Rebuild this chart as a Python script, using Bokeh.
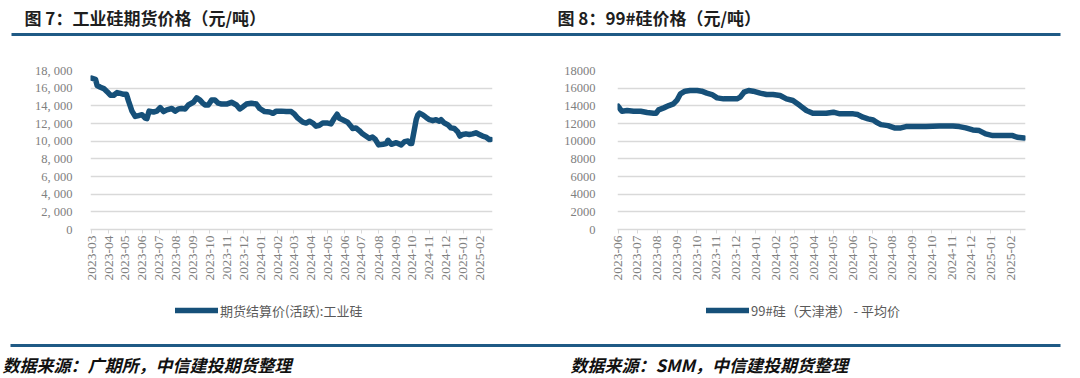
import numpy as np
import pandas as pd
from bokeh.plotting import figure
from bokeh.layouts import column, row
from bokeh.models import (Range1d, FixedTicker, DatetimeTickFormatter,
                          CustomJSTickFormatter, Legend, LegendItem)
from bokeh.core.properties import value
from bokeh.embed import file_html
from bokeh.resources import INLINE

# ---------------- data ----------------
title1 = "图 7：工业硅期货价格（元/吨）"
title2 = "图 8：99#硅价格（元/吨）"
source1 = "数据来源：广期所，中信建投期货整理"
source2 = "数据来源：SMM，中信建投期货整理"
legend1 = "期货结算价(活跃):工业硅"
legend2 = "99#硅（天津港） - 平均价"

ticks1 = ["2023-03", "2023-04", "2023-05", "2023-06", "2023-07", "2023-08",
          "2023-09", "2023-10", "2023-11", "2023-12", "2024-01", "2024-02",
          "2024-03", "2024-04", "2024-05", "2024-06", "2024-07", "2024-08",
          "2024-09", "2024-10", "2024-11", "2024-12", "2025-01", "2025-02"]
ticks2 = ["2023-06", "2023-07", "2023-08", "2023-09", "2023-10", "2023-11",
          "2023-12", "2024-01", "2024-02", "2024-03", "2024-04", "2024-05",
          "2024-06", "2024-07", "2024-08", "2024-09", "2024-10", "2024-11",
          "2024-12", "2025-01", "2025-02"]
yticks = [0, 2000, 4000, 6000, 8000, 10000, 12000, 14000, 16000, 18000]

dates1 = [
    "2023-03-01", "2023-03-08", "2023-03-11", "2023-03-17", "2023-03-23", "2023-03-29",
    "2023-04-04", "2023-04-10", "2023-04-16", "2023-04-22", "2023-04-28",
    "2023-05-03", "2023-05-07", "2023-05-13", "2023-05-19", "2023-05-25", "2023-05-31",
    "2023-06-06", "2023-06-09", "2023-06-13", "2023-06-21", "2023-06-27",
    "2023-07-03", "2023-07-09", "2023-07-15", "2023-07-24", "2023-07-30",
    "2023-08-05", "2023-08-11", "2023-08-17", "2023-08-23",
    "2023-09-01", "2023-09-07", "2023-09-13", "2023-09-18", "2023-09-22", "2023-09-28",
    "2023-10-04", "2023-10-10", "2023-10-16", "2023-10-22", "2023-10-31",
    "2023-11-09", "2023-11-18", "2023-11-24", "2023-11-30",
    "2023-12-06", "2023-12-15", "2023-12-24", "2023-12-30",
    "2024-01-08", "2024-01-17", "2024-01-23", "2024-01-29",
    "2024-02-07", "2024-02-16", "2024-02-25",
    "2024-03-02", "2024-03-08", "2024-03-17", "2024-03-23", "2024-03-29",
    "2024-04-04", "2024-04-10", "2024-04-16", "2024-04-22",
    "2024-05-01", "2024-05-07", "2024-05-13", "2024-05-18", "2024-05-22", "2024-05-28",
    "2024-06-06", "2024-06-12", "2024-06-15", "2024-06-21", "2024-06-27",
    "2024-07-03", "2024-07-09", "2024-07-15", "2024-07-21", "2024-07-26",
    "2024-08-01", "2024-08-09", "2024-08-15", "2024-08-18", "2024-08-24",
    "2024-09-02", "2024-09-11", "2024-09-17", "2024-09-23", "2024-09-27", "2024-09-30",
    "2024-10-08", "2024-10-11", "2024-10-14", "2024-10-20", "2024-10-26",
    "2024-11-01", "2024-11-07", "2024-11-13", "2024-11-19", "2024-11-22", "2024-11-28",
    "2024-12-04", "2024-12-10", "2024-12-16", "2024-12-22", "2024-12-26", "2024-12-31",
    "2025-01-06", "2025-01-12", "2025-01-18", "2025-01-24", "2025-01-30",
    "2025-02-05", "2025-02-11", "2025-02-17", "2025-02-20",
]
prices1 = [
    17130, 17000, 16300, 16100, 15950, 15600,
    15200, 15200, 15500, 15400, 15300,
    15300, 14500, 13400, 12800, 12900, 13000,
    12600, 12550, 13400, 13300, 13400,
    13800, 13350, 13550, 13700, 13400,
    13650, 13700, 13650, 14100,
    14400, 14900, 14650, 14300, 14100, 14100,
    14650, 14650, 14300, 14200, 14200,
    14400, 14100, 13650, 13900,
    14200, 14300, 14200, 13700,
    13350, 13300, 13150, 13400,
    13400, 13350, 13350,
    13050, 12600, 12150, 12050, 12250,
    12050, 11700, 11800, 12050,
    12050, 11950, 12600, 13050, 12600, 12430,
    12150, 11700, 11430, 11500, 11200,
    10830, 10580, 10320, 10470, 10200,
    9580, 9650, 9730, 10100, 9650,
    9830, 9580, 9950, 10020, 9730, 9730,
    12430, 12980, 13170, 12980, 12690,
    12430, 12320, 12430, 12250, 12430, 12050,
    11870, 11500, 11430, 11060, 10580, 10760,
    10830, 10760, 10830, 10950, 10760,
    10580, 10470, 10200, 10200,
]

dates2 = [
    "2023-06-01", "2023-06-04", "2023-06-07", "2023-06-15", "2023-06-25",
    "2023-07-06", "2023-07-16", "2023-07-26", "2023-07-30",
    "2023-08-03", "2023-08-11", "2023-08-19", "2023-08-26",
    "2023-09-01", "2023-09-06", "2023-09-13", "2023-09-21",
    "2023-10-02", "2023-10-09", "2023-10-17", "2023-10-25",
    "2023-11-02", "2023-11-12", "2023-11-22",
    "2023-12-03", "2023-12-08", "2023-12-14", "2023-12-21", "2023-12-28",
    "2024-01-08", "2024-01-18", "2024-01-28",
    "2024-02-08", "2024-02-18", "2024-02-28",
    "2024-03-10", "2024-03-20", "2024-03-30",
    "2024-04-10", "2024-04-20",
    "2024-05-01", "2024-05-11", "2024-05-21",
    "2024-06-01", "2024-06-08", "2024-06-16", "2024-06-24",
    "2024-07-02", "2024-07-07", "2024-07-14", "2024-07-25",
    "2024-08-04", "2024-08-14", "2024-08-22",
    "2024-09-07", "2024-09-22",
    "2024-10-13",
    "2024-11-03", "2024-11-13", "2024-11-23",
    "2024-12-04", "2024-12-14", "2024-12-24",
    "2025-01-04", "2025-01-14", "2025-01-24",
    "2025-02-04", "2025-02-11", "2025-02-22",
]
prices2 = [
    13950, 13650, 13390, 13470, 13390,
    13390, 13240, 13160, 13160,
    13540, 13770, 14030, 14220,
    14680, 15360, 15660, 15740,
    15740, 15660, 15440, 15280,
    14900, 14790, 14790,
    14790, 14980, 15550, 15740, 15660,
    15440, 15280, 15280,
    15170, 14790, 14600,
    14030, 13470, 13160,
    13160, 13160,
    13280, 13090, 13090,
    13090, 13010, 12710, 12520,
    12400, 12140, 11870, 11760,
    11500, 11500, 11650,
    11650, 11650,
    11720,
    11720, 11650, 11500,
    11270, 11200, 10820,
    10630, 10630, 10630,
    10630, 10440, 10360,
]

# ---------------- style ----------------
BLUE = "#165079"
RULE = "#1f5a85"
GRID = "#d9d9d9"
TICKC = "#808080"
SERIF = "Liberation Serif"
CJK = "Noto Sans CJK SC"
LW = 5.5


def ms(items):
    arr = np.array([s if len(s) > 7 else s + "-01" for s in items], dtype="datetime64[ms]")
    return arr.astype(np.int64).astype(float).tolist()


def chart(dates, vals, ticks, xstart, xend, borders, yfmt, ystand):
    p = figure(width=540, height=250, x_axis_type="datetime",
               x_range=Range1d(ms([xstart])[0], ms([xend])[0]),
               y_range=Range1d(0, 18000),
               output_backend="svg", toolbar_location=None,
               min_border_left=borders[0], min_border_right=borders[1],
               min_border_top=borders[2], min_border_bottom=borders[3])
    p.outline_line_color = None
    p.xgrid.visible = False
    p.ygrid.grid_line_color = GRID
    p.ygrid.grid_line_width = 1.5
    p.ygrid.ticker = FixedTicker(ticks=yticks)

    p.yaxis.ticker = FixedTicker(ticks=yticks)
    p.yaxis.formatter = yfmt
    p.yaxis.axis_line_color = None
    p.yaxis.major_tick_line_color = None
    p.yaxis.minor_tick_line_color = None
    p.yaxis.major_label_standoff = ystand
    p.yaxis.major_label_text_font = SERIF
    p.yaxis.major_label_text_font_size = "12.5px"
    p.yaxis.major_label_text_color = TICKC

    p.xaxis.ticker = FixedTicker(ticks=ms(ticks))
    p.xaxis.formatter = DatetimeTickFormatter(
        years="%Y-%m", months="%Y-%m", days="%Y-%m", hours="%Y-%m",
        hourmin="%Y-%m", minutes="%Y-%m")
    p.xaxis.major_label_orientation = np.pi / 2
    p.xaxis.axis_line_color = GRID
    p.xaxis.axis_line_width = 1.5
    p.xaxis.major_tick_line_color = GRID
    p.xaxis.major_tick_out = 4
    p.xaxis.major_tick_in = 0
    p.xaxis.minor_tick_line_color = None
    p.xaxis.major_label_standoff = 2
    p.xaxis.major_label_text_font = SERIF
    p.xaxis.major_label_text_font_size = "13.5px"
    p.xaxis.major_label_text_color = TICKC

    p.line(x=pd.to_datetime(dates), y=vals, line_color=BLUE, line_width=LW,
           line_join="round", line_cap="round")
    return p


fmt1 = CustomJSTickFormatter(code="""
    if (tick == 0) { return "0"; }
    var th = Math.floor(tick / 1000);
    var rest = String(Math.round(tick % 1000)).padStart(3, "0");
    return th + ", " + rest;
""")
fmt2 = CustomJSTickFormatter(code="return String(Math.round(tick));")

c1 = chart(dates1, prices1, ticks1, "2023-02-27", "2025-02-23",
           (90, 48, 27, 61), fmt1, 12)
c2 = chart(dates2, prices2, ticks2, "2023-05-31", "2025-02-24",
           (77, 55, 30, 61), fmt2, 16)


def band(h, y0, y1):
    f = figure(width=1080, height=h, x_range=Range1d(0, 1080), y_range=Range1d(y1, y0),
               min_border=0, toolbar_location=None, output_backend="svg",
               x_axis_location=None, y_axis_location=None)
    f.outline_line_color = None
    f.grid.visible = False
    return f


head = band(40, 0, 40)
head.text(x=[24, 557], y=[17, 17], text=[title1, title2], text_baseline="middle",
          text_font=value(CJK), text_font_size="17px", text_font_style="bold",
          text_color="#1e1e1e")
head.segment(x0=[11], y0=[34], x1=[1060], y1=[34], line_width=3, line_color=RULE)

# legend band: key renderers carry the series (their date x lies far outside
# this band's pixel range, so only the legend keys are visible)
leg = band(45, 290, 335)
k1 = leg.line(x=ms(dates1), y=prices1, line_color=BLUE, line_width=LW, line_cap="round")
k2 = leg.line(x=ms(dates2), y=prices2, line_color=BLUE, line_width=LW, line_cap="round")
for rr, lab, loc in ((k1, legend1, (175, 15)), (k2, legend2, (706, 15))):
    lg = Legend(items=[LegendItem(label=lab, renderers=[rr])], location=loc,
                border_line_color=None, background_fill_alpha=0, padding=0, margin=0,
                glyph_width=43, glyph_height=20, label_height=20, label_standoff=2,
                label_text_font_size="13px", label_text_color="#595959",
                label_text_font=CJK)
    leg.add_layout(lg)

foot = band(43, 335, 378)
foot.segment(x0=[10], y0=[345], x1=[1060], y1=[345], line_width=3, line_color=RULE)
foot.text(x=[2, 570], y=[364, 364], text=[source1, source2], text_baseline="middle",
          text_font=value(CJK), text_font_size="17px", text_font_style="bold italic",
          text_color="#111111")

layout = column(head, row(c1, c2), leg, foot)
open("out.html", "w").write(file_html(layout, INLINE))
